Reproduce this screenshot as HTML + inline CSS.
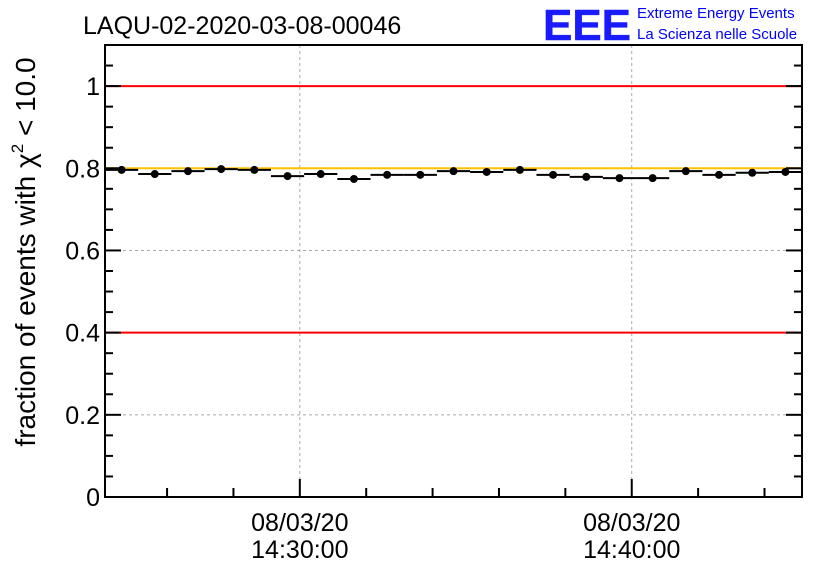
<!DOCTYPE html>
<html><head><meta charset="utf-8"><style>
body{margin:0;background:#fff;}
svg{display:block;font-family:"Liberation Sans",sans-serif;}
</style></head><body>
<svg id="chart" width="836" height="572" viewBox="0 0 836 572">
<rect width="836" height="572" fill="#fff"/>
<text x="83" y="34" font-size="25">LAQU-02-2020-03-08-00046</text>
<g>
<text x="543" y="40" font-size="44" font-weight="bold" fill="#1a1aff" stroke="#1a1aff" stroke-width="0.5" textLength="88" lengthAdjust="spacingAndGlyphs">EEE</text>
<text x="637" y="18" font-size="15" fill="#0000ff">Extreme Energy Events</text>
<text x="637" y="39" font-size="15" fill="#0000ff">La Scienza nelle Scuole</text>
</g>
<text transform="translate(35,252) rotate(-90)" text-anchor="middle" font-size="28">fraction of events with χ<tspan dy="-12" font-size="17">2</tspan><tspan dy="12"> &lt; 10.0</tspan></text>
<g id="grid"></g><g id="lines"></g><g id="marks"></g><g id="axes"></g>
</svg>
<script>
const values=[0.796,0.786,0.793,0.798,0.796,0.781,0.786,0.774,0.784,0.784,0.793,0.791,0.796,0.784,0.779,0.776,0.776,0.793,0.784,0.789,0.791];
const yTicks=[0,0.2,0.4,0.6,0.8,1];
const yTickLabels=["0","0.2","0.4","0.6","0.8","1"];
const xMajor=[0,10];
const xMajorLabels=[["08/03/20","14:30:00"],["08/03/20","14:40:00"]];
const refRed=[0.4,1.0];
const refYellow=[0.8];
const L=105,R=802,T=45,B=497;
const xMin=-5.87,xMax=xMin+21;
const X=m=>L+(m-xMin)/(xMax-xMin)*(R-L);
const Y=v=>B-v/1.1*(B-T);
const NS="http://www.w3.org/2000/svg";
function mk(p,t,a){const e=document.createElementNS(NS,t);for(const k in a)e.setAttribute(k,a[k]);document.getElementById(p).appendChild(e);return e;}
for(const v of [0.2,0.6]){const e=mk('grid','line',{x1:L,x2:R,y1:Y(v),y2:Y(v),stroke:'#aaa','stroke-dasharray':'3,3'});

}
for(const m of xMajor){const e=mk('grid','line',{x1:X(m),x2:X(m),y1:T,y2:B,stroke:'#aaa','stroke-dasharray':'3,3'});

}
for(const v of refRed){const e=mk('lines','line',{x1:L,x2:R,y1:Y(v),y2:Y(v),stroke:'#f00','stroke-width':2});

}
for(const v of refYellow){const e=mk('lines','line',{x1:L,x2:R,y1:Y(v),y2:Y(v),stroke:'#ffc000','stroke-width':2});

}
values.forEach((v,i)=>{const x0=X(xMin+i),x1=X(xMin+i+1);
const l=mk('marks','line',{x1:x0,x2:x1,y1:Y(v),y2:Y(v),stroke:'#000','stroke-width':2});


const c=mk('marks','circle',{cx:(x0+x1)/2,cy:Y(v),r:4,fill:'#000'});

});
const f=mk('axes','rect',{x:L,y:T,width:R-L,height:B-T,fill:'none',stroke:'#000','stroke-width':2});


for(let v=0;v<=1.1001;v+=0.05){const maj=Math.abs(v/0.2-Math.round(v/0.2))<1e-6;const len=maj?16:8;
mk('axes','line',{x1:L,x2:L+len,y1:Y(v),y2:Y(v),stroke:'#000','stroke-width':2});
mk('axes','line',{x1:R-len,x2:R,y1:Y(v),y2:Y(v),stroke:'#000','stroke-width':2});}
yTicks.forEach((v,i)=>{const t=mk('axes','text',{x:L-5,y:Y(v)+9,'text-anchor':'end','font-size':25});t.textContent=yTickLabels[i];

});
for(let m=-4;m<=14;m+=2){const maj=m%10===0;mk('axes','line',{x1:X(m),x2:X(m),y1:B,y2:B-(maj?18:9),stroke:'#000','stroke-width':2});}
xMajor.forEach((m,i)=>{xMajorLabels[i].forEach((s,j)=>{const t=mk('axes','text',{x:X(m),y:531+j*27,'text-anchor':'middle','font-size':25});t.textContent=s;

});});
</script>
</body></html>
